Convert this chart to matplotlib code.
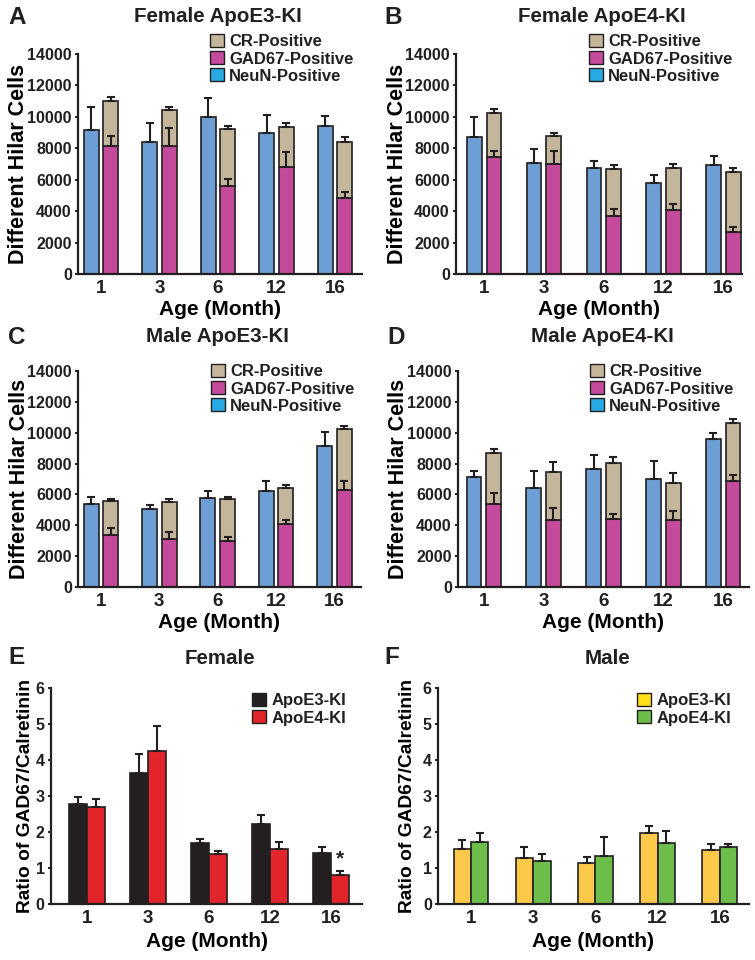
import numpy as np
import matplotlib.pyplot as plt
from matplotlib.patches import Patch

plt.rcParams['font.family'] = ['Liberation Sans', 'DejaVu Sans']
plt.rcParams['font.weight'] = 'bold'
plt.rcParams['axes.labelweight'] = 'bold'
plt.rcParams['text.color'] = '#231f20'

ages = ['1', '3', '6', '12', '16']

# A: female ApoE3-KI (cells)
fe3_neun = [9170, 8420, 9960, 8960, 9450]
fe3_neun_err = [1430, 1220, 1210, 1150, 620]
fe3_gad = [8120, 8120, 5570, 6810, 4850]
fe3_gad_err = [670, 1180, 470, 950, 340]
fe3_cr = [2910, 2290, 3640, 2570, 3520]
fe3_cr_err = [220, 190, 240, 220, 340]

# B: female ApoE4-KI
fe4_neun = [8720, 7090, 6720, 5810, 6940]
fe4_neun_err = [1260, 870, 490, 510, 590]
fe4_gad = [7470, 7000, 3680, 4090, 2660]
fe4_gad_err = [360, 850, 470, 360, 320]
fe4_cr = [2790, 1770, 2980, 2630, 3830]
fe4_cr_err = [210, 190, 300, 300, 230]

# C: male ApoE3-KI
me3_neun = [5400, 5050, 5790, 6200, 9160]
me3_neun_err = [430, 260, 450, 690, 860]
me3_gad = [3390, 3130, 2980, 4060, 6260]
me3_gad_err = [450, 410, 240, 280, 610]
me3_cr = [2200, 2360, 2700, 2350, 3960]
me3_cr_err = [110, 190, 150, 180, 230]

# D: male ApoE4-KI
me4_neun = [7120, 6410, 7660, 6990, 9610]
me4_neun_err = [430, 1140, 880, 1180, 390]
me4_gad = [5350, 4370, 4430, 4320, 6880]
me4_gad_err = [740, 730, 300, 600, 370]
me4_cr = [3320, 3070, 3630, 2450, 3770]
me4_cr_err = [250, 670, 350, 650, 270]

# E / F: GAD67 / calretinin ratio
ratio_f_e3 = [2.77, 3.65, 1.69, 2.21, 1.42]
ratio_f_e3_err = [0.20, 0.52, 0.12, 0.27, 0.15]
ratio_f_e4 = [2.69, 4.24, 1.40, 1.52, 0.81]
ratio_f_e4_err = [0.23, 0.70, 0.07, 0.21, 0.11]
ratio_m_e3 = [1.53, 1.28, 1.13, 1.96, 1.49]
ratio_m_e3_err = [0.25, 0.31, 0.17, 0.21, 0.17]
ratio_m_e4 = [1.72, 1.19, 1.32, 1.70, 1.58]
ratio_m_e4_err = [0.26, 0.20, 0.55, 0.34, 0.10]

EDGE = '#231f20'
BLUE = '#6d9fd6'
NEUN_LEG = '#27aae1'
MAG = '#c54a9b'
TAN = '#c4b69b'

W, H = 755, 960
fig = plt.figure(figsize=(W / 100, H / 100), dpi=100)


def px_axes(left, right, top, bottom):
    return fig.add_axes([left / W, 1 - bottom / H, (right - left) / W, (bottom - top) / H])


def style(ax, ymax, ystep, xlim, ylabel, ylab_x, ylab_size, xlab_y=-0.12):
    ax.set_xlim(*xlim)
    ax.set_ylim(0, ymax)
    ax.set_yticks(np.arange(0, ymax + ystep / 2, ystep))
    ax.set_xticks(np.arange(len(ages)))
    ax.set_xticklabels(ages)
    for s in ['top', 'right']:
        ax.spines[s].set_visible(False)
    for s in ['left', 'bottom']:
        ax.spines[s].set_linewidth(1.6)
        ax.spines[s].set_color(EDGE)
    ax.tick_params(axis='y', length=2.5, width=1.4, pad=2, labelsize=11.5, colors=EDGE)
    ax.tick_params(axis='x', length=0, pad=4, labelsize=13.5, colors=EDGE)
    ax.set_ylabel(ylabel, fontsize=ylab_size, fontweight='bold')
    ax.yaxis.set_label_coords(ylab_x, 0.5)
    ax.set_xlabel('Age (Month)', fontsize=15, fontweight='bold')
    ax.xaxis.set_label_coords(0.5, xlab_y)


def errs(ax, x, top, err):
    ax.errorbar(x, top, yerr=[np.zeros(len(err)), err], fmt='none', ecolor=EDGE,
                elinewidth=1.5, capsize=3, capthick=1.5, zorder=3)


def cell_panel(ax, neun, neun_err, gad, gad_err, cr, cr_err, width, off):
    x = np.arange(len(ages))
    kw = dict(edgecolor=EDGE, linewidth=1.2, zorder=2)
    ax.bar(x - off, neun, width, color=BLUE, **kw)
    ax.bar(x + off, gad, width, color=MAG, **kw)
    ax.bar(x + off, cr, width, bottom=gad, color=TAN, **kw)
    errs(ax, x - off, neun, neun_err)
    errs(ax, x + off, gad, gad_err)
    errs(ax, x + off, np.add(gad, cr), cr_err)
    handles = [Patch(fc=TAN, ec=EDGE, lw=1), Patch(fc=MAG, ec=EDGE, lw=1),
               Patch(fc=NEUN_LEG, ec=EDGE, lw=1)]
    return handles, ['CR-Positive', 'GAD67-Positive', 'NeuN-Positive']


def ratio_panel(ax, a, a_err, b, b_err, ca, cb, la, lb, width, off):
    x = np.arange(len(ages))
    kw = dict(edgecolor=EDGE, linewidth=1.2, zorder=2)
    ax.bar(x - off, a, width, color=ca, **kw)
    ax.bar(x + off, b, width, color=cb, **kw)
    errs(ax, x - off, a, a_err)
    errs(ax, x + off, b, b_err)
    return [Patch(fc=la, ec=EDGE, lw=1), Patch(fc=lb, ec=EDGE, lw=1)]


def legend(ax, handles, labels, lx, ly):
    ax.legend(handles, labels, loc='upper left', bbox_to_anchor=(lx / W, 1 - ly / H),
              bbox_transform=fig.transFigure, frameon=False, fontsize=12,
              handlelength=0.85, handleheight=0.85, handletextpad=0.3,
              labelspacing=0.1, borderpad=0, borderaxespad=0)


def label(x, y, letter, title, tx):
    fig.text(x / W, 1 - y / H, letter, fontsize=17.5, ha='left', va='center')
    fig.text(tx / W, 1 - y / H, title, fontsize=14.8, ha='center', va='center')


# A
ax = px_axes(78, 362, 54, 274)
h, l = cell_panel(ax, fe3_neun, fe3_neun_err, fe3_gad, fe3_gad_err, fe3_cr, fe3_cr_err, 0.256, 0.167)
style(ax, 14000, 2000, (-0.39, 4.46), 'Different Hilar Cells', -0.171, 15.5)
legend(ax, h, l, 210, 34)
label(8, 17, 'A', 'Female ApoE3-KI', 218)

# B
ax = px_axes(456, 742, 54, 274)
h, l = cell_panel(ax, fe4_neun, fe4_neun_err, fe4_gad, fe4_gad_err, fe4_cr, fe4_cr_err, 0.245, 0.164)
style(ax, 14000, 2000, (-0.47, 4.31), 'Different Hilar Cells', -0.168, 15.5)
legend(ax, h, l, 589, 34)
label(384, 17, 'B', 'Female ApoE4-KI', 602)

# C
ax = px_axes(78, 361, 371, 587)
h, l = cell_panel(ax, me3_neun, me3_neun_err, me3_gad, me3_gad_err, me3_cr, me3_cr_err, 0.256, 0.167)
style(ax, 14000, 2000, (-0.39, 4.45), 'Different Hilar Cells', -0.171, 15.5)
legend(ax, h, l, 211, 364)
label(8, 337, 'C', 'Male ApoE3-KI', 217)

# D
ax = px_axes(458, 749, 371, 587)
h, l = cell_panel(ax, me4_neun, me4_neun_err, me4_gad, me4_gad_err, me4_cr, me4_cr_err, 0.245, 0.164)
style(ax, 14000, 2000, (-0.43, 4.43), 'Different Hilar Cells', -0.168, 15.5)
legend(ax, h, l, 590, 364)
label(387, 337, 'D', 'Male ApoE4-KI', 602)

# E
ax = px_axes(51, 362, 688, 904)
h = ratio_panel(ax, ratio_f_e3, ratio_f_e3_err, ratio_f_e4, ratio_f_e4_err,
                '#231f20', '#e1252b', '#231f20', '#e1252b', 0.29, 0.145)
style(ax, 6, 1, (-0.59, 4.51), 'Ratio of GAD67/Calretinin', -0.055, 13.8, -0.13)
legend(ax, h, ['ApoE3-KI', 'ApoE4-KI'], 252, 693)
ax.text(4 + 0.145, ratio_f_e4[4] + ratio_f_e4_err[4] + 0.06, '*', ha='center', va='bottom', fontsize=15)
label(8, 658, 'E', 'Female', 220)

# F
ax = px_axes(438, 749, 688, 904)
h = ratio_panel(ax, ratio_m_e3, ratio_m_e3_err, ratio_m_e4, ratio_m_e4_err,
                '#fcc94a', '#6cbd4a', '#ffe01a', '#6cbd4a', 0.28, 0.14)
style(ax, 6, 1, (-0.53, 4.47), 'Ratio of GAD67/Calretinin', -0.07, 13.8, -0.13)
legend(ax, h, ['ApoE3-KI', 'ApoE4-KI'], 637, 693)
label(384, 658, 'F', 'Male', 608)

fig.savefig('out.png', dpi=100)
